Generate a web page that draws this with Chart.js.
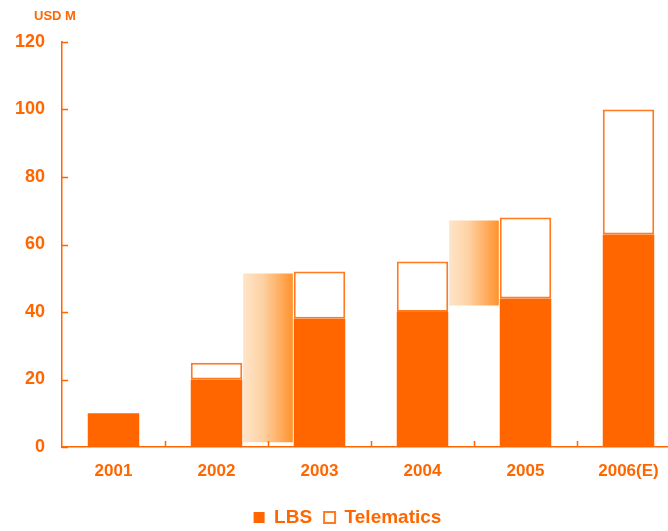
<!DOCTYPE html>
<html>
<head>
<meta charset="utf-8">
<script src="https://cdn.jsdelivr.net/npm/chart.js@4"></script>
<style>
  html, body { margin: 0; padding: 0; background: #fff; overflow: hidden; }
  #wrap { width: 680px; height: 531px; }
</style>
</head>
<body>
<div id="wrap"><canvas id="chart" width="680" height="531"></canvas></div>
<script>
// 数据
const years = ['2001', '2002', '2003', '2004', '2005', '2006(E)'];
const lbs = [10, 20, 38, 40, 44, 63];
const telematics = [0, 5, 14, 15, 24, 37];
// 年份之间的过渡色块（浮动区间，落在年份分界处）
const bridgeSlots = ['b0', 'b1', 'b2', 'b3', 'b4', 'b5', 'b6'];
const bridges = [null, null, [1.5, 51.3], null, [42, 67], null, null];
const yTicks = [0, 20, 40, 60, 80, 100, 120];

const ORANGE = '#FF6600';
const FONT = "'Liberation Sans', Arial, sans-serif";

// 渐变填充
function bridgeFill(context) {
    const chart = context.chart;
    if (!chart.chartArea || context.dataIndex == null) return '#FFC080';
    const cx = chart.scales.x2.getPixelForValue(context.dataIndex) - 1;
    const g = chart.ctx.createLinearGradient(cx - 25, 0, cx + 25, 0);
    g.addColorStop(0, '#FEE5CA');
    g.addColorStop(0.4, '#FDD3A6');
    g.addColorStop(1, '#FF9430');
    return g;
}

// 单位文字 + 朝内的刻度线
const extras = {
    id: 'extras',
    afterDraw(chart) {
        const c = chart.ctx;
        const { y, x2 } = chart.scales;
        c.save();
        c.fillStyle = ORANGE;
        c.font = 'bold 13px ' + FONT;
        c.textAlign = 'center';
        c.textBaseline = 'middle';
        c.fillText('USD M', 55, 16);

        c.strokeStyle = ORANGE;
        c.lineWidth = 1.5;
        c.beginPath();
        yTicks.forEach(v => {
            const py = Math.round(y.getPixelForValue(v)) + 0.5;
            c.moveTo(y.right, py);
            c.lineTo(y.right + 6, py);
        });
        for (let k = 1; k < bridgeSlots.length - 1; k++) {
            const px = Math.round(x2.getPixelForValue(k)) + 0.5;
            c.moveTo(px, y.bottom);
            c.lineTo(px, y.bottom - 6);
        }
        c.stroke();
        c.restore();
    }
};

new Chart(document.getElementById('chart').getContext('2d'), {
    type: 'bar',
    data: {
        labels: years,
        datasets: [{
            label: 'LBS',
            data: lbs,
            backgroundColor: ORANGE,
            borderColor: ORANGE,
            borderWidth: 0,
            grouped: false,
            barPercentage: 0.5,
            categoryPercentage: 1
        }, {
            label: 'Telematics',
            data: telematics,
            backgroundColor: '#FFFFFF',
            borderColor: '#FF7A20',
            borderWidth: 2,
            borderSkipped: false,
            grouped: false,
            barPercentage: 0.5,
            categoryPercentage: 1
        }, {
            label: 'bridge',
            data: bridges,
            xAxisID: 'x2',
            backgroundColor: bridgeFill,
            borderWidth: 0,
            grouped: false,
            barThickness: 49
        }]
    },
    options: {
        responsive: false,
        animation: false,
        layout: { padding: { left: 15, top: 42, right: 0, bottom: -6 } },
        scales: {
            x: {
                stacked: true,
                grid: { drawOnChartArea: false, drawTicks: false },
                border: { color: ORANGE, width: 1.5 },
                ticks: { color: ORANGE, font: { family: FONT, size: 17, weight: 'bold' }, padding: 14 },
                afterFit(scale) { scale.height = 49; }
            },
            x2: {
                type: 'category',
                labels: bridgeSlots,
                offset: false,
                display: false,
                grid: { offset: false }
            },
            y: {
                stacked: true,
                min: 0,
                max: 120,
                afterBuildTicks(scale) { scale.ticks = yTicks.map(v => ({ value: v })); },
                grid: { drawOnChartArea: false, drawTicks: false },
                border: { color: ORANGE, width: 1.5 },
                ticks: { color: ORANGE, font: { family: FONT, size: 18, weight: 'bold' }, padding: 17 },
                afterFit(scale) { scale.width = 47; }
            }
        },
        plugins: {
            tooltip: { enabled: false },
            legend: {
                position: 'bottom',
                labels: {
                    filter: item => item.datasetIndex < 2,
                    color: ORANGE,
                    font: { family: FONT, size: 19, weight: 'bold' },
                    boxWidth: 11,
                    boxHeight: 11,
                    padding: 12
                }
            }
        }
    },
    plugins: [extras]
});
</script>
</body>
</html>
